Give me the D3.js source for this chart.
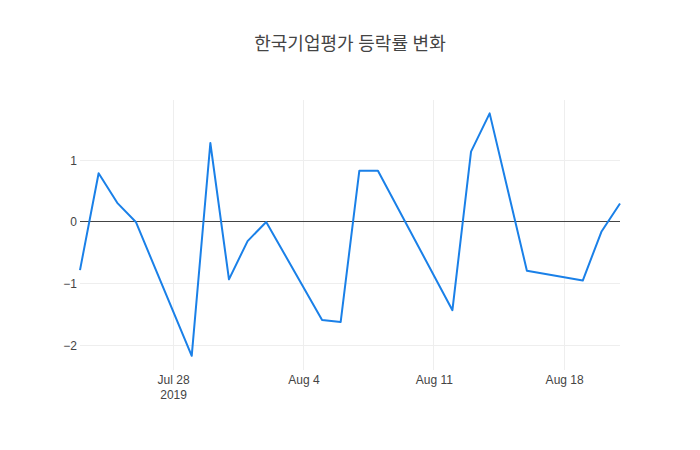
<!DOCTYPE html>
<html>
<head>
<meta charset="utf-8">
<script src="https://cdn.jsdelivr.net/npm/d3@7"></script>
<style>
  body { margin: 0; background: #fff; }
  svg { font-family: "Open Sans", "Noto Sans CJK KR", sans-serif; }
</style>
</head>
<body>
<div id="chart"></div>
<script>
// trading days and daily change (%)
const dates = [
    "2019-07-23", "2019-07-24", "2019-07-25", "2019-07-26", "2019-07-29",
    "2019-07-30", "2019-07-31", "2019-08-01", "2019-08-02", "2019-08-05",
    "2019-08-06", "2019-08-07", "2019-08-08", "2019-08-12", "2019-08-13",
    "2019-08-14", "2019-08-16", "2019-08-19", "2019-08-20", "2019-08-21"
];
const changes = [
    -0.78, 0.79, 0.31, 0.0, -2.17,
    1.28, -0.93, -0.31, 0.0, -1.59,
    -1.62, 0.83, 0.83, -1.43, 1.14,
    1.76, -0.79, -0.95, -0.16, 0.30
];
const xTicks = ["2019-07-28", "2019-08-04", "2019-08-11", "2019-08-18"];
const yTicks = [-2, -1, 0, 1];
const title = "한국기업평가 등락률 변화";

const width = 700, height = 450;
const margin = {top: 100, right: 80, bottom: 80, left: 80};
const innerW = width - margin.left - margin.right;
const innerH = height - margin.top - margin.bottom;

const parse = d3.timeParse("%Y-%m-%d");
const data = dates.map((d, i) => ({date: parse(d), value: changes[i]}));

const svg = d3.select("#chart").append("svg")
    .attr("width", width)
    .attr("height", height);

svg.append("text")
    .attr("x", width / 2)
    .attr("y", 50)
    .attr("text-anchor", "middle")
    .attr("fill", "#444")
    .style("font-size", "18px")
    .text(title);

const g = svg.append("g")
    .attr("transform", "translate(" + margin.left + "," + margin.top + ")");

const x = d3.scaleTime()
    .domain(d3.extent(data, d => d.date))
    .range([0, innerW]);

const y = d3.scaleLinear()
    .domain([-2.40, 1.977])
    .range([innerH, 0]);

// grid lines
g.selectAll(".xgrid").data(xTicks.map(parse)).enter().append("line")
    .attr("x1", d => x(d)).attr("x2", d => x(d))
    .attr("y1", 0).attr("y2", innerH)
    .attr("stroke", "#eee").attr("stroke-width", 1)
    .attr("shape-rendering", "crispEdges");

g.selectAll(".ygrid").data(yTicks.filter(v => v !== 0)).enter().append("line")
    .attr("x1", 0).attr("x2", innerW)
    .attr("y1", d => y(d)).attr("y2", d => y(d))
    .attr("stroke", "#eee").attr("stroke-width", 1)
    .attr("shape-rendering", "crispEdges");

// zero line
g.append("line")
    .attr("x1", 0).attr("x2", innerW)
    .attr("y1", y(0)).attr("y2", y(0))
    .attr("stroke", "#444").attr("stroke-width", 1)
    .attr("shape-rendering", "crispEdges");

// y axis labels
const yAxis = g.append("g")
    .call(d3.axisLeft(y).tickValues(yTicks).tickSize(0).tickPadding(3)
        .tickFormat(d => d3.format("")(d).replace("-", "\u2212")));
yAxis.select(".domain").remove();
yAxis.selectAll("text").attr("fill", "#444").style("font-size", "12px");

// x axis labels
const fmt = d3.timeFormat("%b %-d");
const xAxis = g.append("g")
    .attr("transform", "translate(0," + innerH + ")")
    .call(d3.axisBottom(x).tickValues(xTicks.map(parse)).tickSize(0).tickPadding(5)
        .tickFormat(fmt));
xAxis.select(".domain").remove();
xAxis.selectAll("text").attr("fill", "#444").style("font-size", "12px");
xAxis.selectAll(".tick").filter((d, i) => i === 0)
    .append("text")
    .attr("y", 20)
    .attr("dy", "0.71em")
    .attr("fill", "#444")
    .attr("text-anchor", "middle")
    .style("font-size", "12px")
    .text("2019");

// line
const line = d3.line()
    .x(d => x(d.date))
    .y(d => y(d.value));

g.append("path")
    .datum(data)
    .attr("fill", "none")
    .attr("stroke", "#1a80e8")
    .attr("stroke-width", 2)
    .attr("stroke-linejoin", "round")
    .attr("d", line);
</script>
</body>
</html>
